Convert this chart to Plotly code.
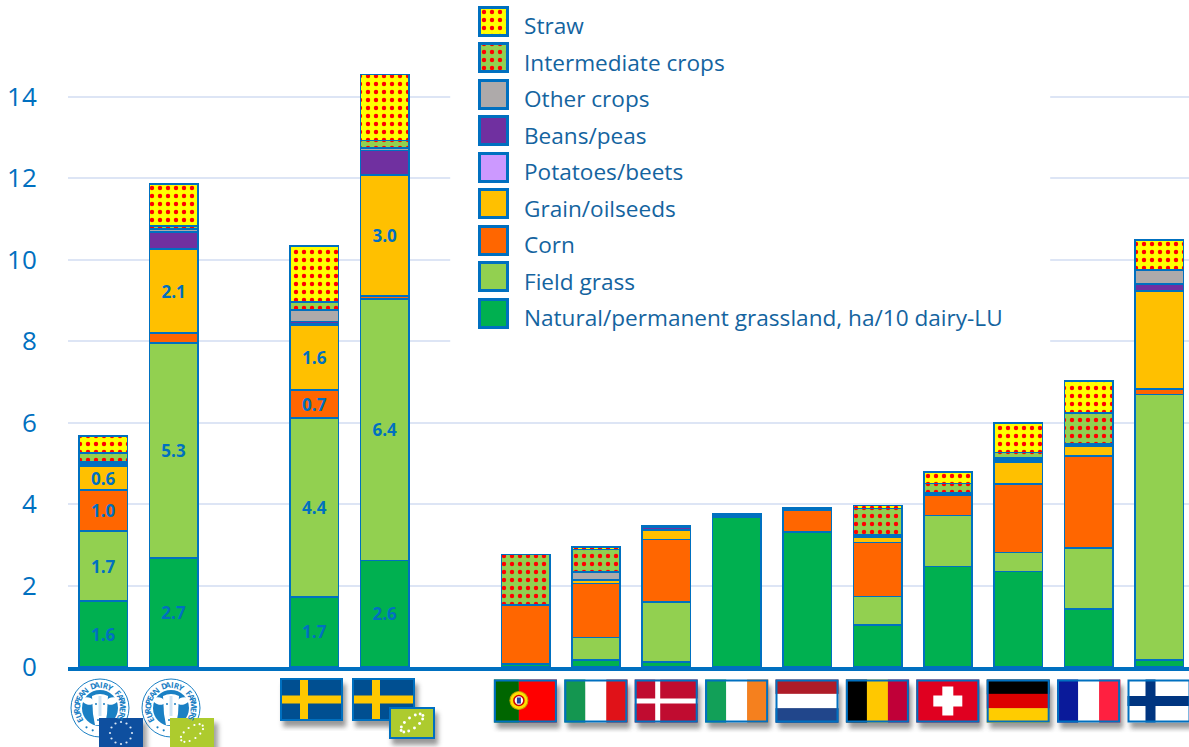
import base64, math
import plotly.graph_objects as go

W, H = 1189, 747

categories = ["EDF average", "EDF organic", " ", "Sweden", "Sweden organic", "  ",
              "Portugal", "Italy", "Denmark", "Ireland", "Netherlands", "Belgium",
              "Switzerland", "Germany", "France", "Finland"]

natural = [1.62, 2.68, None, 1.72, 2.62, None, 0.07, 0.17, 0.12, 3.68, 3.32, 1.03, 2.47, 2.35, 1.42, 0.17]
field_grass = [1.72, 5.28, None, 4.39, 6.42, None, None, 0.55, 1.48, None, None, 0.70, 1.25, 0.46, 1.50, 6.52]
corn = [1.00, 0.24, None, 0.69, 0.07, None, 1.45, 1.33, 1.53, 0.04, 0.54, 1.33, 0.50, 1.68, 2.26, 0.14]
grain = [0.58, 2.06, None, 1.60, 2.96, None, None, 0.08, 0.22, 0.01, 0.02, 0.12, 0.01, 0.55, 0.24, 2.40]
potatoes = [0.02, 0.02, None, 0.02, 0.02, None, None, None, 0.02, None, None, 0.01, None, 0.02, 0.01, None]
beans = [0.04, 0.40, None, 0.06, 0.59, None, None, 0.02, 0.06, 0.01, 0.02, 0.02, 0.03, 0.05, 0.03, 0.18]
other = [0.06, 0.08, None, 0.29, 0.07, None, None, 0.19, 0.03, 0.02, 0.02, 0.04, 0.03, 0.03, 0.02, 0.34]
intermediate = [0.22, 0.07, None, 0.19, 0.18, None, 1.24, 0.55, None, None, None, 0.64, 0.22, 0.13, 0.76, None]
straw = [0.42, 1.03, None, 1.38, 1.62, None, None, 0.06, None, None, None, 0.08, 0.28, 0.72, 0.78, 0.74]

labelled_bars = ["EDF average", "EDF organic", "Sweden", "Sweden organic"]

series_names = ["Natural/permanent grassland, ha/10 dairy-LU", "Field grass", "Corn", "Grain/oilseeds",
                "Potatoes/beets", "Beans/peas", "Other crops", "Intermediate crops", "Straw"]
series_values = [natural, field_grass, corn, grain, potatoes, beans, other, intermediate, straw]
series_colors = ["#00B050", "#92D050", "#FF6600", "#FFC000", "#CC99FF", "#7030A0", "#AEAAAA", "#92D050", "#FFFF00"]
series_dotted = [False, False, False, False, False, False, False, True, True]
series_labelled = [True, True, True, True, False, False, False, False, False]

yticks = [0, 2, 4, 6, 8, 10, 12, 14]

BLUE = "#0070C0"
LEG_TXT = "#14649F"
GRID = "#DDE5F5"

# pixel layout
X0, SLOT, XC0 = 68, 70.4, 103
Y0, UNIT = 667, 40.72


def px(x):
    return x / W


def py(y):
    return 1 - y / H


def marker(color, dotted, line_w=1.6):
    m = dict(color=color, line=dict(color=BLUE, width=line_w))
    if dotted:
        m["pattern"] = dict(shape=".", bgcolor=color, fgcolor="#FF0000", size=8, solidity=0.24, fillmode="replace")
    return m


fig = go.Figure()
for name, vals, col, dot, lab in zip(series_names, series_values, series_colors, series_dotted, series_labelled):
    text = [f"{v:.1f}" if lab and v is not None and v >= 0.5 and c in labelled_bars else ""
            for v, c in zip(vals, categories)]
    fig.add_trace(go.Bar(x=categories, y=vals, name=name, width=0.69, marker=marker(col, dot),
                         text=text, textposition="inside", insidetextanchor="middle", textangle=0,
                         constraintext="none", cliponaxis=False,
                         textfont=dict(family="Open Sans", size=17, color=BLUE, weight="bold"),
                         showlegend=False, hoverinfo="x+y+name"))

# legend swatches, straw at the top
annotations = []
for i, (name, col, dot) in enumerate(list(zip(series_names, series_colors, series_dotted))[::-1]):
    yc = 21 + 36.55 * i
    fig.add_trace(go.Bar(x=[493.5 + i * 0.01], y=[28], base=[H - yc - 14], width=[28], xaxis="x2", yaxis="y2",
                         marker=marker(col, dot, 3), showlegend=False, hoverinfo="skip"))
    annotations.append(dict(text=name, x=px(521.5), y=py(yc + 4.5), xref="paper", yref="paper", xanchor="left",
                            yanchor="middle", showarrow=False, align="left",
                            font=dict(family="Open Sans", size=22.6, color=LEG_TXT)))


def svg_uri(w, h, body):
    svg = (f'<svg xmlns="http://www.w3.org/2000/svg" width="{w}" height="{h}" viewBox="0 0 {w} {h}">'
           '<defs><filter id="s" x="-30%" y="-30%" width="160%" height="160%"><feGaussianBlur stdDeviation="2.6"/></filter></defs>'
           f'{body}</svg>')
    return "data:image/svg+xml;base64," + base64.b64encode(svg.encode()).decode()


def rect(x, y, w, h, c):
    return f'<rect x="{x}" y="{y}" width="{w}" height="{h}" fill="{c}"/>'


def vstripes(*c):
    w = 63 / len(c)
    return "".join(rect(i * w, 0, w + 0.3, 43, k) for i, k in enumerate(c))


def hstripes(*c):
    h = 43 / len(c)
    return "".join(rect(0, i * h, 63, h + 0.3, k) for i, k in enumerate(c))


def cross(bg, c, cw=8, cx=21):
    return rect(0, 0, 63, 43, bg) + rect(cx - cw / 2, 0, cw, 43, c) + rect(0, 21.5 - cw / 2, 63, cw, c)


flags = {
    "Sweden": cross("#004F91", "#FFC800", cw=8, cx=24),
    "Portugal": rect(0, 0, 25, 43, "#006600") + rect(25, 0, 38, 43, "#FF0000")
    + '<circle cx="25" cy="21" r="9" fill="#FFE000" stroke="#C8A000"/><circle cx="25" cy="21" r="5" fill="#fff" stroke="#D00000" stroke-width="1.6"/><rect x="23" y="18" width="4" height="6" fill="#2040A0"/>',
    "Italy": vstripes("#149650", "#FFFFFF", "#E01218"),
    "Denmark": cross("#C00C30", "#FFFFFF", cw=5, cx=23),
    "Ireland": vstripes("#12A058", "#FFFFFF", "#F5801E"),
    "Netherlands": hstripes("#AE1C28", "#FFFFFF", "#21468B"),
    "Belgium": vstripes("#000000", "#FFC800", "#C00038"),
    "Switzerland": rect(0, 0, 63, 43, "#E00020") + rect(26, 7, 11, 29, "#FFFFFF") + rect(17, 16, 29, 11, "#FFFFFF"),
    "Germany": hstripes("#000000", "#DD0000", "#FFCC00"),
    "France": vstripes("#0A1A9A", "#FFFFFF", "#FF2040"),
    "Finland": cross("#FFFFFF", "#003580", cw=10, cx=23),
}


def flag_image(body, left, top, w=63, h=43):
    pad = 10
    fw, fh = w + 2 * pad, h + 2 * pad
    sx, sy = w / 63, h / 43
    b = (f'<rect x="{pad + 3}" y="{pad + 6}" width="{w}" height="{h}" fill="#555" opacity="0.6" filter="url(#s)"/>'
         f'<g transform="translate({pad},{pad}) scale({sx},{sy})">{body}</g>'
         f'<rect x="{pad + 1}" y="{pad + 1}" width="{w - 2}" height="{h - 2}" fill="none" stroke="{BLUE}" stroke-width="2"/>')
    return dict(source=svg_uri(fw, fh, b), xref="paper", yref="paper", x=px(left - pad), y=py(top - pad),
                sizex=fw / W, sizey=fh / H, sizing="stretch", xanchor="left", yanchor="top", layer="above")


def organic_body():
    dots = ""
    for k in range(12):
        a = k / 12 * 2 * math.pi
        dots += f'<circle cx="{31.5 + 18 * math.cos(a) * math.cos(0.6) + 6 * math.sin(a) * math.sin(0.6):.1f}" cy="{21.5 - 18 * math.cos(a) * math.sin(0.6) + 8 * math.sin(a) * math.cos(0.6):.1f}" r="2" fill="#fff"/>'
    return rect(0, 0, 63, 43, "#ADCB2E") + dots


def small_label(left, top, color, star_color, rx, ry, tilt):
    stars = ""
    for k in range(12):
        a = k / 12 * 2 * math.pi
        stars += (f'<circle cx="{22 + rx * math.cos(a) * math.cos(tilt) + ry * math.sin(a) * math.sin(tilt):.1f}" '
                  f'cy="{15 - rx * math.cos(a) * math.sin(tilt) + ry * math.sin(a) * math.cos(tilt):.1f}" r="1.1" fill="{star_color}"/>')
    b = (f'<rect x="4" y="5" width="44" height="30" fill="#555" opacity="0.55" filter="url(#s)"/>'
         + rect(0, 0, 44, 30, color) + stars)
    return dict(source=svg_uri(54, 40, b), xref="paper", yref="paper", x=px(left), y=py(top), sizex=54 / W, sizey=40 / H,
                sizing="stretch", xanchor="left", yanchor="top", layer="above")


def logo_image(cx, cy):
    c = "#1A80C4"
    r = 30
    stars = "".join(f'<circle cx="{r + 23.5 * math.sin(math.radians(a)):.1f}" cy="{r - 23.5 * math.cos(math.radians(a)):.1f}" r="1.1" fill="{c}"/>'
                    for a in (145, 162, 180, 198, 215))
    b = (f'<circle cx="{r}" cy="{r}" r="29" fill="#fff" stroke="{c}" stroke-width="1"/>'
         f'<circle cx="{r}" cy="{r}" r="18" fill="{c}"/>'
         f'<ellipse cx="{r - 12}" cy="{r - 7}" rx="6" ry="3.5" fill="#fff" transform="rotate(15 {r - 12} {r - 7})"/>'
         f'<ellipse cx="{r + 12}" cy="{r - 7}" rx="6" ry="3.5" fill="#fff" transform="rotate(-15 {r + 12} {r - 7})"/>'
         f'<path d="M{r - 8} {r - 12} Q{r} {r - 16} {r + 8} {r - 12} L{r + 7} {r + 6} L{r + 5} {r + 17} L{r - 5} {r + 17} L{r - 7} {r + 6} Z" fill="#fff"/>'
         f'<path d="M{r - 5} {r - 4} L{r - 3} {r - 4} M{r + 3} {r - 4} L{r + 5} {r - 4} M{r - 3} {r + 12} L{r + 3} {r + 12}" stroke="{c}" stroke-width="1.6"/>'
         f'<path d="M{r} {r - 12} L{r} {r + 8}" stroke="#CFE4F4" stroke-width="3"/>'
         f'{stars}')
    return dict(source=svg_uri(2 * r, 2 * r, b), xref="paper", yref="paper", x=px(cx - r), y=py(cy - r), sizex=2 * r / W,
                sizey=2 * r / H, sizing="stretch", xanchor="left", yanchor="top", layer="above")


images = []
logo_text = "EUROPEAN DAIRY FARMERS"
for cx in (100, 171):
    images.append(logo_image(cx, 708))
    for k, ch in enumerate(logo_text):
        if ch == " ":
            continue
        a = -120 + k * 238 / (len(logo_text) - 1)
        annotations.append(dict(text=ch, showarrow=False, xref="paper", yref="paper",
                                x=px(cx + 23.5 * math.sin(math.radians(a))), y=py(708 - 23.5 * math.cos(math.radians(a))),
                                textangle=a, xanchor="center", yanchor="middle",
                                font=dict(family="Open Sans", size=8, color="#1A80C4", weight="bold")))
images.append(small_label(99, 718, "#0E4F9F", "#DCE8F5", 11, 11, 0))
images.append(small_label(170, 718, "#ADCB2E", "#FFFFFF", 13, 6, 0.6))
images.append(flag_image(flags["Sweden"], 280, 678))
images.append(flag_image(flags["Sweden"], 352, 678))
images.append(flag_image(organic_body(), 389, 707, 46, 32))
for name, body in flags.items():
    if name == "Sweden":
        continue
    i = categories.index(name)
    images.append(flag_image(body, XC0 + SLOT * i - 31.5, 679.5))

fig.update_layout(
    width=W, height=H, margin=dict(l=0, r=0, t=0, b=0, autoexpand=False), paper_bgcolor="white",
    plot_bgcolor="rgba(0,0,0,0)",
    barmode="stack", showlegend=False, annotations=annotations, images=images,
    xaxis=dict(domain=[X0 / W, 1], type="category", categoryorder="array", categoryarray=categories,
               range=[-0.5, (W - X0) / SLOT - 0.5], showticklabels=False, ticks="", showgrid=False, zeroline=False,
               showline=True, linecolor=BLUE, linewidth=4),
    yaxis=dict(domain=[(H - Y0) / H, 1], range=[0, Y0 / UNIT], tickmode="array", tickvals=yticks,
               tickfont=dict(family="Open Sans", size=26, color=BLUE), ticks="outside", ticklen=25,
               tickcolor="rgba(0,0,0,0)", gridcolor=GRID, gridwidth=1.5, zeroline=False, showline=False),
    xaxis2=dict(domain=[0, 1], range=[0, W], visible=False, anchor="y2"),
    yaxis2=dict(domain=[0, 1], range=[0, H], visible=False, anchor="x2"),
    # white panel behind the legend, hides the gridlines there
    shapes=[dict(type="rect", xref="x", yref="y", x0=(450 - XC0) / SLOT, x1=(1050 - XC0) / SLOT,
                 y0=(Y0 - 352) / UNIT, y1=Y0 / UNIT, fillcolor="white", line=dict(width=0), layer="between")],
)

fig.write_html("out.html", config=dict(displayModeBar=False), post_script="document.body.style.margin='0';")
